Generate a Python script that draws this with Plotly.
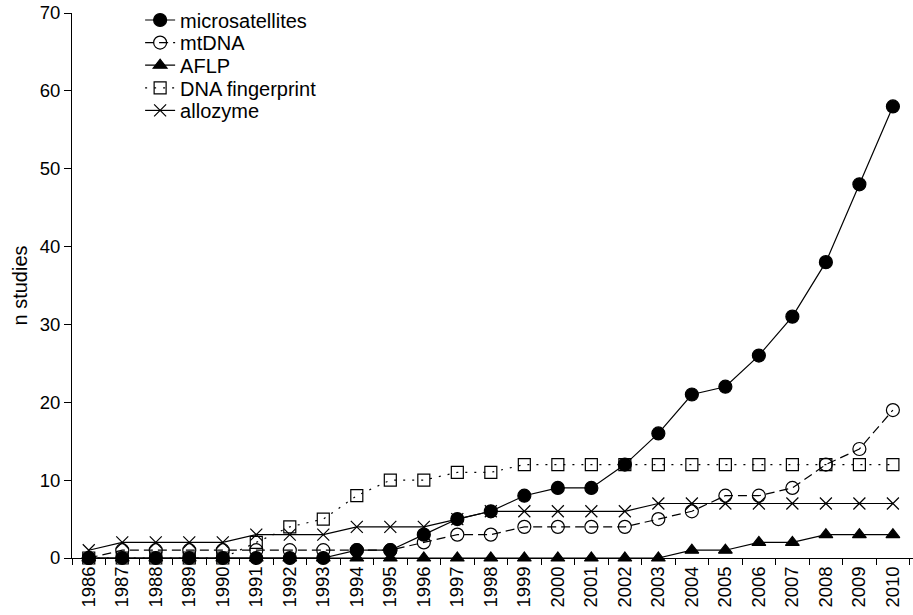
import plotly.graph_objects as go

years = [str(y) for y in range(1986, 2011)]
microsatellites = [0, 0, 0, 0, 0, 0, 0, 0, 1, 1, 3, 5, 6, 8, 9, 9, 12, 16, 21, 22, 26, 31, 38, 48, 58]
mtDNA = [0, 1, 1, 1, 1, 1, 1, 1, 1, 1, 2, 3, 3, 4, 4, 4, 4, 5, 6, 8, 8, 9, 12, 14, 19]
AFLP = [0, 0, 0, 0, 0, 0, 0, 0, 0, 0, 0, 0, 0, 0, 0, 0, 0, 0, 1, 1, 2, 2, 3, 3, 3]
fingerprint = [0, 0, 0, 0, 0, 2, 4, 5, 8, 10, 10, 11, 11, 12, 12, 12, 12, 12, 12, 12, 12, 12, 12, 12, 12]
allozyme = [1, 2, 2, 2, 2, 3, 3, 3, 4, 4, 4, 5, 6, 6, 6, 6, 6, 7, 7, 7, 7, 7, 7, 7, 7]
y_ticks = [0, 10, 20, 30, 40, 50, 60, 70]

series = [
    ("microsatellites", microsatellites, "circle", "solid", 13),
    ("mtDNA", mtDNA, "circle-open", "9px,5px", 13),
    ("AFLP", AFLP, "triangle-up", "solid", 12),
    ("DNA fingerprint", fingerprint, "square-open", "2px,7px", 12),
    ("allozyme", allozyme, "x-thin-open", "solid", 12),
]

fig = go.Figure()
legend_cfg = {}
row_gap = 22.6          # px between legend rows
plot_h = 545.0          # plot-area height in px
for i, (name, vals, sym, dash, msize) in enumerate(series):
    lname = "legend" if i == 0 else f"legend{i + 1}"
    fig.add_trace(go.Scatter(
        x=years, y=vals, name=name, mode="lines+markers",
        line=dict(color="black", width=1.2, dash=dash),
        marker=dict(symbol=sym, size=msize,
                    color="black", line=dict(color="black", width=1.2)),
        cliponaxis=False, legend=lname,
    ))
    legend_cfg[lname] = dict(
        x=0.081, y=1.0 + (-7.0 - i * row_gap) / plot_h,
        xanchor="left", yanchor="middle",
        font=dict(size=20), bgcolor="rgba(0,0,0,0)", itemwidth=30,
    )

fig.update_layout(
    width=913, height=615,
    margin=dict(l=72, r=0, t=13, b=57, autoexpand=False),
    paper_bgcolor="white", plot_bgcolor="white",
    font=dict(family="Liberation Sans, Arial, sans-serif", size=18, color="black"),
    showlegend=True,
    xaxis=dict(type="category", categoryorder="array", categoryarray=years,
               range=[-0.5, 24.6], tickson="boundaries", ticks="outside",
               ticklen=6, tickcolor="black", showline=True, linecolor="black",
               linewidth=1, showgrid=False, zeroline=False, tickangle=-90,
               tickfont=dict(size=18.5), ticklabeloverflow="allow"),
    yaxis=dict(range=[0, 70], tickvals=y_ticks, ticks="outside", ticklen=7,
               tickcolor="black", showline=True, linecolor="black", linewidth=1,
               showgrid=False, zeroline=False, tickfont=dict(size=18.5),
               ticklabeloverflow="allow",
               title=dict(text="n studies", font=dict(size=20), standoff=6)),
    **legend_cfg,
)

fig.write_html("out.html", config={"displayModeBar": False},
               post_script="document.body.style.margin='0';document.body.style.overflow='hidden';")
